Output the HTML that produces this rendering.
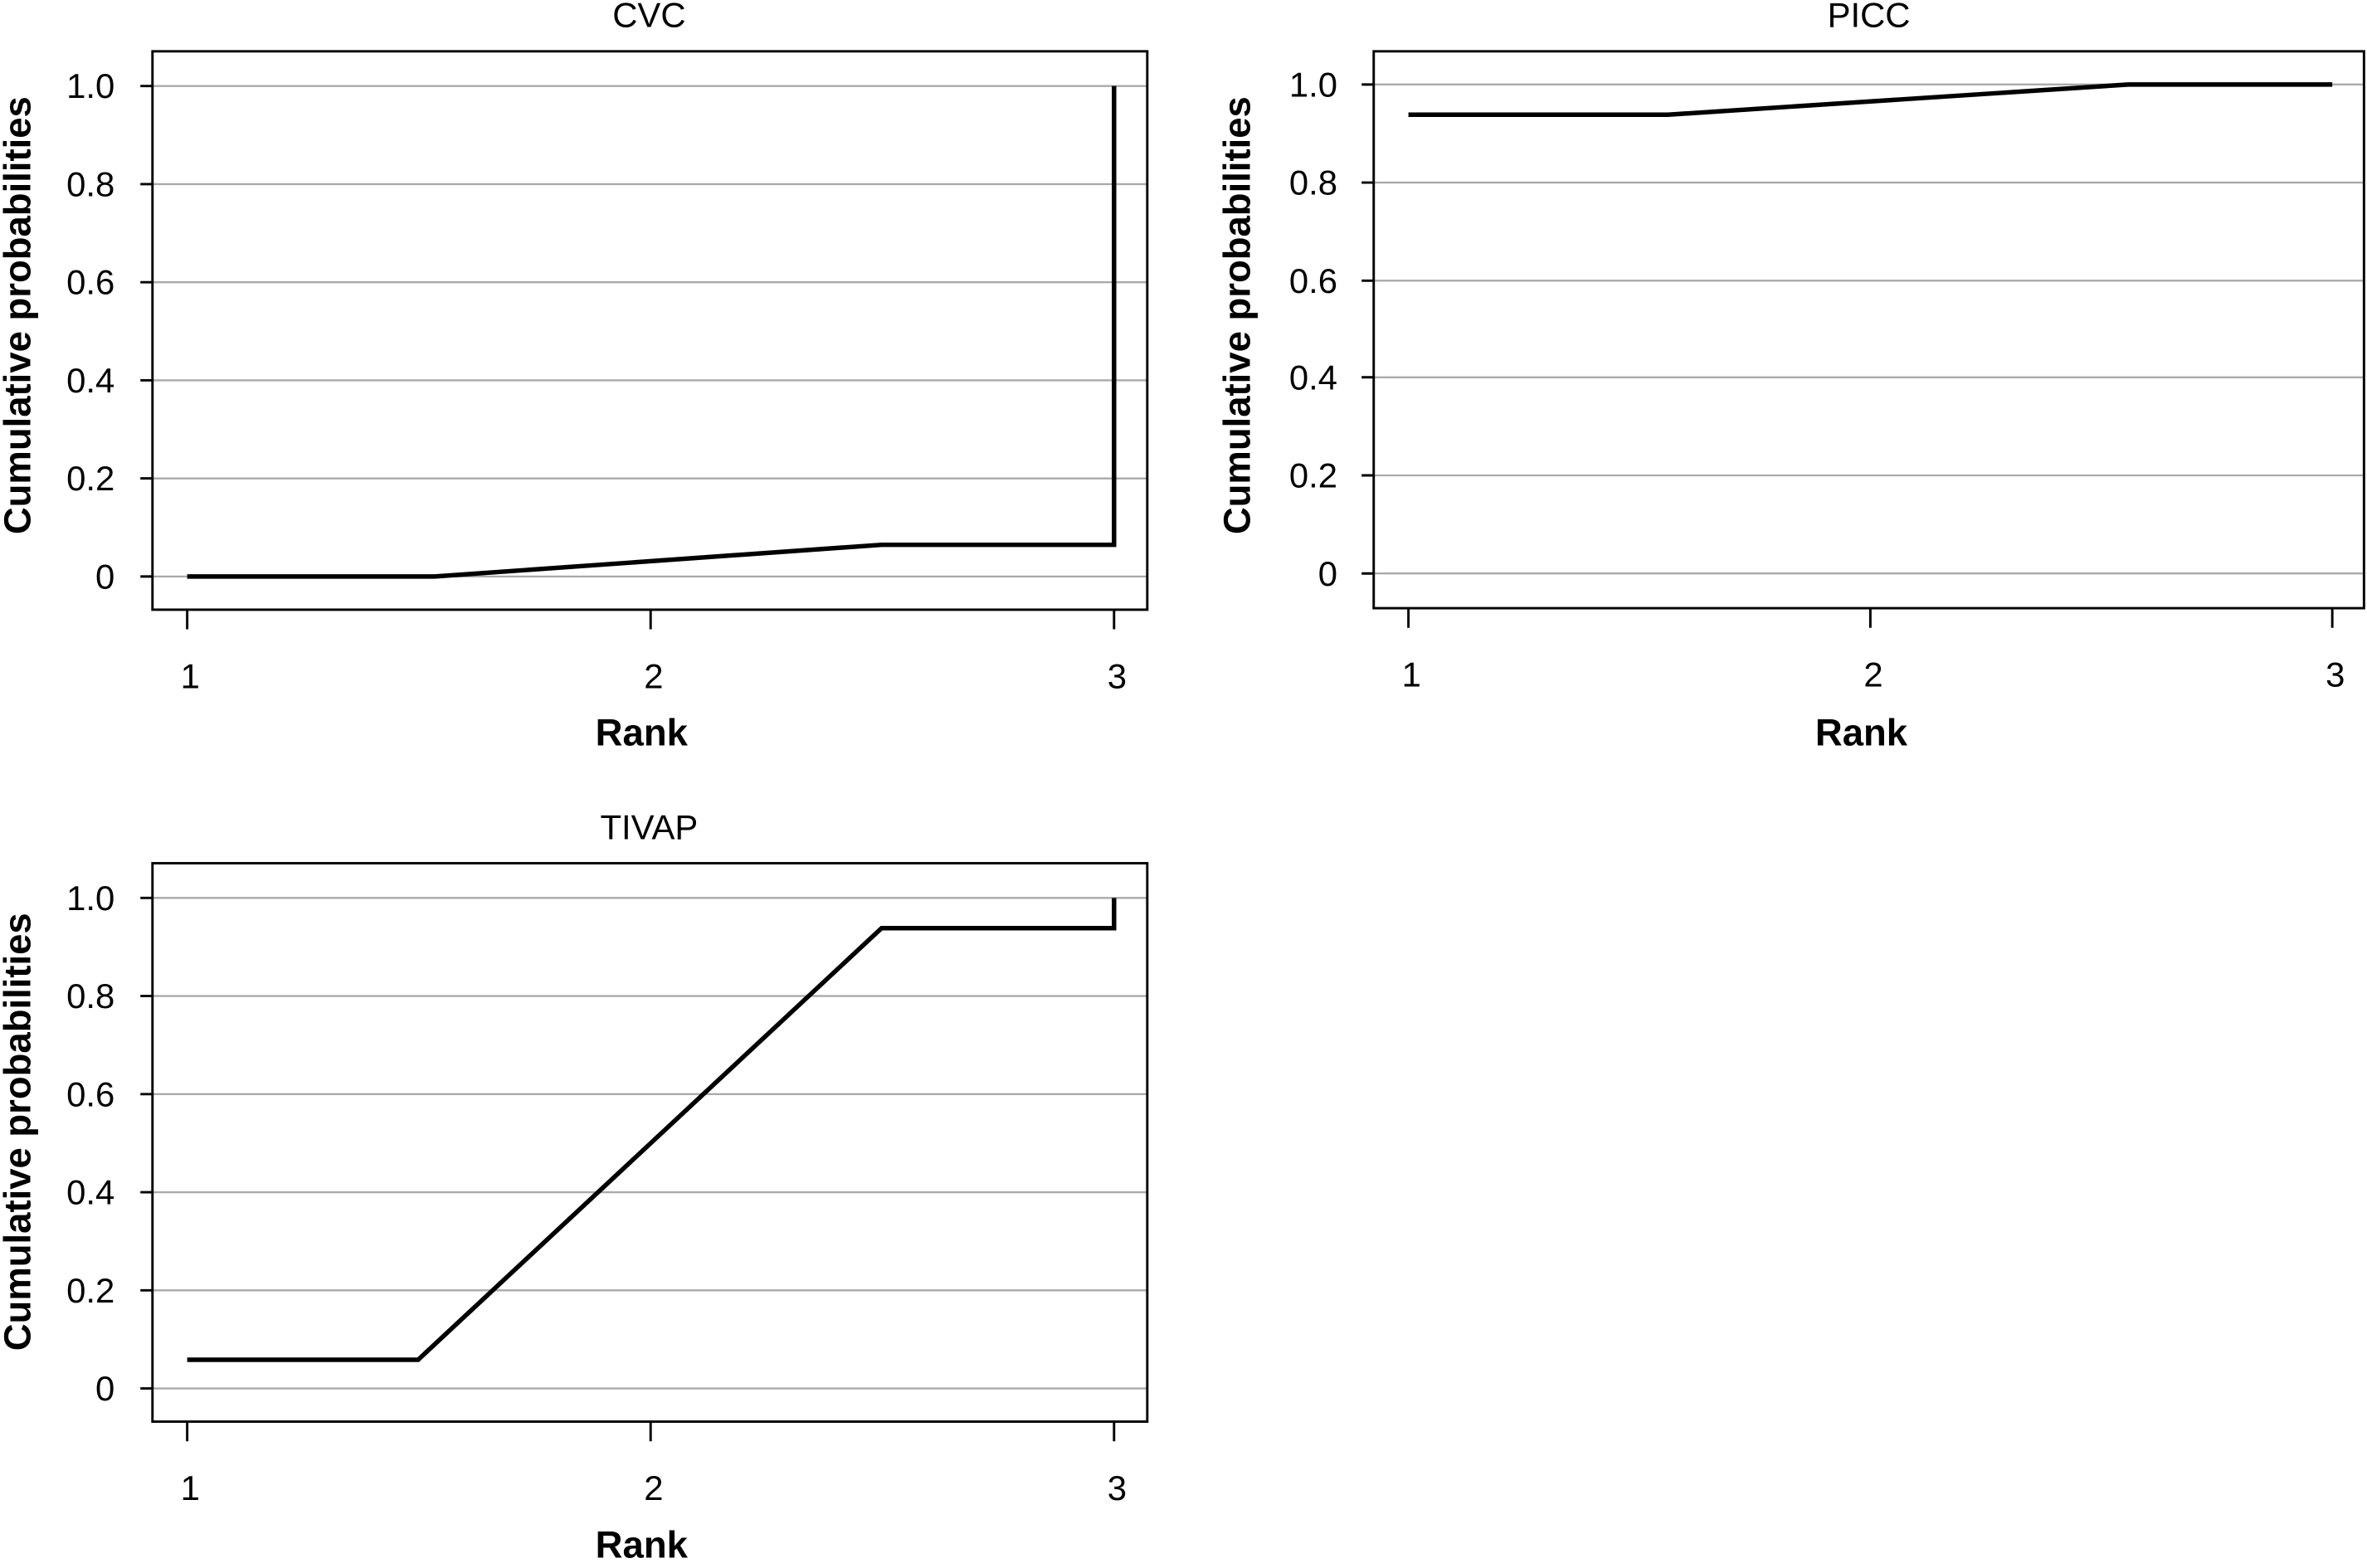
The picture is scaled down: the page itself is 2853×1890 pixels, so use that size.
<!DOCTYPE html>
<html><head><meta charset="utf-8"><style>
html,body{margin:0;padding:0;background:#fff;}
svg{display:block;}
text{font-family:"Liberation Sans Narrow","Liberation Sans",sans-serif;fill:#000;}
.t{font-size:23px;}
.b{font-size:25px;font-weight:bold;}
.g{stroke:#aaa;stroke-width:1.3;}
.ax{stroke:#000;stroke-width:1.6;fill:none;}
.s{stroke:#000;stroke-width:3;fill:none;stroke-linejoin:miter;}
</style></head><body>
<svg width="2853" height="1890" viewBox="0 0 1568 1039" preserveAspectRatio="none" xmlns="http://www.w3.org/2000/svg">
<!-- CVC -->
<g>
<text x="430" y="18" class="t" text-anchor="middle">CVC</text>
<line class="g" x1="101" x2="760" y1="57" y2="57"/><line class="g" x1="101" x2="760" y1="122" y2="122"/>
<line class="g" x1="101" x2="760" y1="187" y2="187"/><line class="g" x1="101" x2="760" y1="252" y2="252"/>
<line class="g" x1="101" x2="760" y1="317" y2="317"/><line class="g" x1="101" x2="760" y1="382" y2="382"/>
<rect class="ax" x="101" y="34" width="659" height="370"/>
<path class="ax" d="M93 57H101M93 122H101M93 187H101M93 252H101M93 317H101M93 382H101M124 404V417M431 404V417M738 404V417"/>
<g class="t" text-anchor="end"><text x="76" y="65">1.0</text><text x="76" y="130">0.8</text><text x="76" y="195">0.6</text><text x="76" y="260">0.4</text><text x="76" y="325">0.2</text><text x="76" y="390">0</text></g>
<g class="t" text-anchor="middle"><text x="126" y="456">1</text><text x="433" y="456">2</text><text x="740" y="456">3</text></g>
<text x="425" y="494" class="b" text-anchor="middle">Rank</text>
<text transform="translate(20,209) rotate(-90)" class="b" text-anchor="middle">Cumulative probabilities</text>
<path class="s" d="M124 382H288L584 361H738V57"/>
</g>
<!-- PICC -->
<g>
<text x="1238" y="18" class="t" text-anchor="middle">PICC</text>
<line class="g" x1="910" x2="1566" y1="56" y2="56"/><line class="g" x1="910" x2="1566" y1="121" y2="121"/>
<line class="g" x1="910" x2="1566" y1="186" y2="186"/><line class="g" x1="910" x2="1566" y1="250" y2="250"/>
<line class="g" x1="910" x2="1566" y1="315" y2="315"/><line class="g" x1="910" x2="1566" y1="380" y2="380"/>
<rect class="ax" x="910" y="34" width="656" height="369"/>
<path class="ax" d="M902 56H910M902 121H910M902 186H910M902 250H910M902 315H910M902 380H910M933 403V416M1239 403V416M1545 403V416"/>
<g class="t" text-anchor="end"><text x="886" y="64">1.0</text><text x="886" y="129">0.8</text><text x="886" y="194">0.6</text><text x="886" y="258">0.4</text><text x="886" y="323">0.2</text><text x="886" y="388">0</text></g>
<g class="t" text-anchor="middle"><text x="935" y="455">1</text><text x="1241" y="455">2</text><text x="1547" y="455">3</text></g>
<text x="1233" y="494" class="b" text-anchor="middle">Rank</text>
<text transform="translate(828,209) rotate(-90)" class="b" text-anchor="middle">Cumulative probabilities</text>
<path class="s" d="M933 76H1105L1410 56H1545"/>
</g>
<!-- TIVAP -->
<g>
<text x="430" y="556" class="t" text-anchor="middle">TIVAP</text>
<line class="g" x1="101" x2="760" y1="595" y2="595"/><line class="g" x1="101" x2="760" y1="660" y2="660"/>
<line class="g" x1="101" x2="760" y1="725" y2="725"/><line class="g" x1="101" x2="760" y1="790" y2="790"/>
<line class="g" x1="101" x2="760" y1="855" y2="855"/><line class="g" x1="101" x2="760" y1="920" y2="920"/>
<rect class="ax" x="101" y="572" width="659" height="370"/>
<path class="ax" d="M93 595H101M93 660H101M93 725H101M93 790H101M93 855H101M93 920H101M124 942V955M431 942V955M738 942V955"/>
<g class="t" text-anchor="end"><text x="76" y="603">1.0</text><text x="76" y="668">0.8</text><text x="76" y="733">0.6</text><text x="76" y="798">0.4</text><text x="76" y="863">0.2</text><text x="76" y="928">0</text></g>
<g class="t" text-anchor="middle"><text x="126" y="994">1</text><text x="433" y="994">2</text><text x="740" y="994">3</text></g>
<text x="425" y="1032" class="b" text-anchor="middle">Rank</text>
<text transform="translate(20,750) rotate(-90)" class="b" text-anchor="middle">Cumulative probabilities</text>
<path class="s" d="M124 901H277L584 615H738V595"/>
</g>
</svg>
</body></html>
